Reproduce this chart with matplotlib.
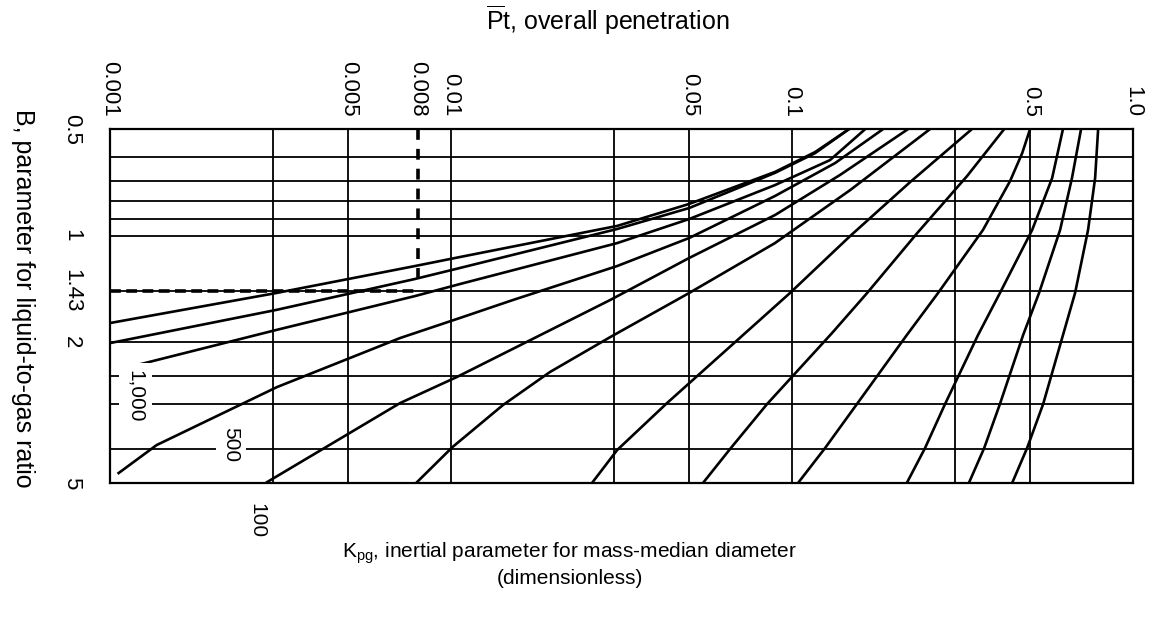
import matplotlib.pyplot as plt
from matplotlib.transforms import blended_transform_factory

plt.rcParams['font.family'] = ['Liberation Sans', 'DejaVu Sans']
plt.rcParams['mathtext.fontset'] = 'custom'
plt.rcParams['mathtext.rm'] = 'Liberation Sans'
plt.rcParams['mathtext.it'] = 'Liberation Sans:italic'

# axis ticks / grid (Pt = overall penetration, B = liquid-to-gas parameter)
pt_ticks = [0.001, 0.005, 0.008, 0.01, 0.05, 0.1, 0.5, 1.0]
pt_tick_labels = ['0.001', '0.005', '0.008', '0.01', '0.05', '0.1', '0.5', '1.0']
b_ticks = [0.5, 1, 1.43, 2, 5]
b_tick_labels = ['0.5', '1', '1.43', '2', '5']
pt_grid = [0.003, 0.005, 0.01, 0.03, 0.05, 0.1, 0.3, 0.5]
b_grid = [0.6, 0.7, 0.8, 0.9, 1.0, 1.43, 2.0, 2.5, 3.0, 4.0]

# Kpg curves (Pt, B pairs), highest Kpg first
pt_a = [0.001, 0.00307, 0.00784, 0.0106, 0.0307, 0.0499, 0.0891, 0.1168, 0.147]
b_a = [1.766, 1.453, 1.219, 1.150, 0.939, 0.814, 0.661, 0.581, 0.5]
pt_b = [0.001, 0.00307, 0.00784, 0.0106, 0.0307, 0.0499, 0.0891, 0.1168, 0.147]
b_b = [2.012, 1.622, 1.326, 1.235, 0.958, 0.836, 0.665, 0.585, 0.5]
pt_c = [0.0012, 0.00307, 0.00784, 0.0106, 0.0307, 0.0499, 0.0891, 0.1292, 0.164]   # Kpg = 1,000
b_c = [2.321, 1.848, 1.482, 1.371, 1.050, 0.898, 0.720, 0.612, 0.5]
pt_d = [0.00106, 0.00137, 0.00309, 0.00709, 0.0106, 0.0152, 0.0307, 0.0499, 0.0891, 0.1337, 0.185]  # 500
b_d = [4.686, 3.906, 2.678, 1.947, 1.710, 1.520, 1.219, 1.016, 0.773, 0.624, 0.5]
pt_e = [0.00289, 0.00709, 0.0104, 0.0293, 0.0499, 0.0891, 0.1383, 0.219]   # 100
b_e = [4.968, 2.972, 2.509, 1.520, 1.157, 0.875, 0.674, 0.5]
pt_f = [0.0079, 0.0101, 0.0142, 0.0195, 0.0293, 0.0499, 0.0891, 0.148, 0.254]
b_f = [5.0, 3.957, 3.011, 2.429, 1.935, 1.453, 1.050, 0.744, 0.5]
pt_g = [0.0259, 0.0307, 0.043, 0.0718, 0.0986, 0.148, 0.222, 0.337]
b_g = [5.0, 4.035, 2.972, 1.910, 1.453, 1.003, 0.706, 0.5]
pt_h = [0.0548, 0.0658, 0.0845, 0.131, 0.166, 0.233, 0.326, 0.419]
b_h = [5.0, 4.008, 2.991, 1.885, 1.453, 0.983, 0.679, 0.5]
pt_i = [0.1041, 0.125, 0.155, 0.217, 0.268, 0.363, 0.436, 0.473, 0.499]
b_i = [5.0, 3.982, 2.991, 1.910, 1.453, 0.964, 0.701, 0.585, 0.5]
pt_j = [0.217, 0.2455, 0.281, 0.351, 0.407, 0.506, 0.579, 0.623]
b_j = [5.0, 3.982, 2.991, 1.910, 1.453, 0.964, 0.688, 0.5]
pt_k = [0.330, 0.366, 0.407, 0.476, 0.530, 0.611, 0.662, 0.704]
b_k = [5.0, 3.982, 2.991, 1.910, 1.453, 0.964, 0.688, 0.5]
pt_l = [0.442, 0.489, 0.545, 0.623, 0.676, 0.738, 0.774, 0.790]
b_l = [5.0, 3.982, 2.991, 1.910, 1.453, 0.964, 0.688, 0.5]

# worked example: B = 1.43 -> Pt = 0.008
ex_b = 1.43
ex_pt = 0.008
ex_b_top = 1.37

fig = plt.figure(figsize=(11.53, 6.18), dpi=100)
ax = fig.add_axes([0.0954, 0.2184, 0.8873, 0.5728])
ax.set_xscale('log')
ax.set_yscale('log')
ax.set_xlim(0.001, 1.0)
ax.set_ylim(5, 0.5)

for p in pt_grid:
    ax.axvline(p, color='black', lw=1.3, zorder=1)
for b in b_grid:
    ax.axhline(b, color='black', lw=1.3, zorder=1)

curves = [(pt_a, b_a), (pt_b, b_b), (pt_c, b_c), (pt_d, b_d), (pt_e, b_e), (pt_f, b_f),
          (pt_g, b_g), (pt_h, b_h), (pt_i, b_i), (pt_j, b_j), (pt_k, b_k), (pt_l, b_l)]
for px, by in curves:
    ax.plot(px, by, color='black', lw=1.9, zorder=2, solid_joinstyle='round')

# dashed example lines
ax.plot([0.001, ex_pt], [ex_b, ex_b], color='black', lw=2.6, ls=(0, (3, 1.5)), zorder=3)
ax.plot([ex_pt, ex_pt], [0.5, ex_b_top], color='black', lw=2.6, ls=(0, (3, 2.5)), zorder=3)

# curve labels
ax.text(0.00119, 2.85, '1,000', rotation=-90, ha='center', va='center', fontsize=15,
        bbox=dict(facecolor='white', edgecolor='none', pad=5), zorder=4)
ax.text(0.00226, 3.9, '500', rotation=-90, ha='center', va='center', fontsize=15,
        bbox=dict(facecolor='white', edgecolor='none', pad=4), zorder=4)
trans = blended_transform_factory(ax.transData, ax.transAxes)
ax.text(0.0027, -0.105, '100', rotation=-90, ha='center', va='center', fontsize=15,
        transform=trans, clip_on=False)

ax.xaxis.set_ticks_position('top')
ax.set_xticks(pt_ticks)
ax.set_xticklabels(pt_tick_labels, rotation=-90)
ax.set_yticks(b_ticks)
ax.set_yticklabels(b_tick_labels, rotation=-90, va='center')
ax.minorticks_off()
ax.tick_params(axis='x', length=0, pad=9, labelsize=16)
ax.tick_params(axis='y', length=0, pad=20, labelsize=16)
for s in ax.spines.values():
    s.set_linewidth(1.6)

fig.text(0.527, 0.967, r'$\overline{\mathrm{P}}$t, overall penetration', ha='center', va='center', fontsize=18)
fig.text(0.02, 0.518, 'B, parameter for liquid-to-gas ratio', rotation=-90, ha='center', va='center', fontsize=18)
fig.text(0.494, 0.087, 'K$_{\\mathrm{pg}}$, inertial parameter for mass-median diameter\n(dimensionless)',
         ha='center', va='center', fontsize=15, linespacing=1.15)

plt.savefig('out.png', dpi=100)
